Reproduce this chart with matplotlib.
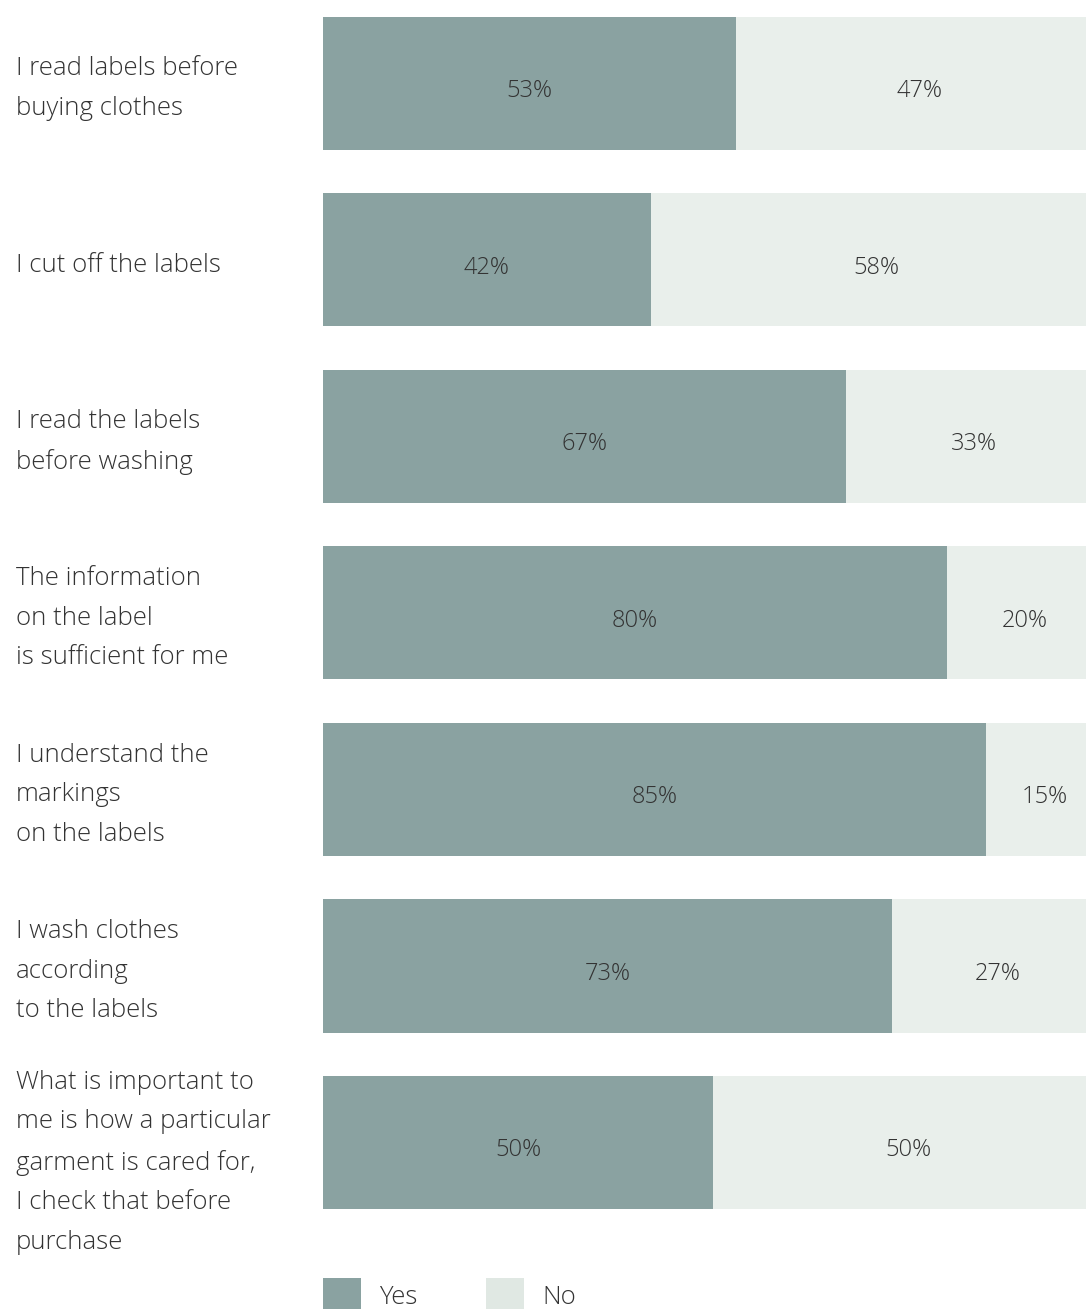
import matplotlib.pyplot as plt
import numpy as np
from matplotlib.patches import Rectangle
from matplotlib.transforms import blended_transform_factory

statements = [
    'I read labels before\nbuying clothes',
    'I cut off the labels',
    'I read the labels\nbefore washing',
    'The information\non the label\nis sufficient for me',
    'I understand the\nmarkings\non the labels',
    'I wash clothes\naccording\nto the labels',
    'What is important to\nme is how a particular\ngarment is cared for,\nI check that before\npurchase',
]
yes = [53, 42, 67, 80, 85, 73, 50]
no = [47, 58, 33, 20, 15, 27, 50]
legend_labels = ['Yes', 'No']

yes_color = '#8aa2a1'
no_color = '#e9efeb'
legend_no_color = '#e0e8e3'
text_color = '#333333'

plt.rcParams['font.family'] = ['Open Sans', 'DejaVu Sans']

W, H = 1086, 1309
fig = plt.figure(figsize=(W / 100, H / 100), dpi=100)

# bars run from x=323px, the full 100% reaching slightly past the right edge
left_px, right_px = 323, 1103
top_px, bottom_px = 17, 1209
ax = fig.add_axes([left_px / W, 1 - bottom_px / H,
                   (right_px - left_px) / W, (bottom_px - top_px) / H])

n = len(statements)
spacing = 176.5
bar_h = 133 / spacing
y = np.arange(n)

ax.barh(y, yes, height=bar_h, color=yes_color, linewidth=0)
ax.barh(y, no, left=yes, height=bar_h, color=no_color, linewidth=0)

for i in range(n):
    ax.text(yes[i] / 2, y[i] + 0.045, f'{yes[i]}%', ha='center', va='center',
            fontsize=17, color=text_color, fontweight='light')
    ax.text(yes[i] + no[i] / 2, y[i] + 0.045, f'{no[i]}%', ha='center', va='center',
            fontsize=17, color=text_color, fontweight='light')

ax.set_xlim(0, 100)
ax.set_ylim(n - 1 + bar_h / 2, -bar_h / 2)
ax.axis('off')

# statement labels on the left
label_tr = blended_transform_factory(fig.transFigure, ax.transData)
for i, s in enumerate(statements):
    lines = s.count('\n') + 1
    if lines > 3:
        yt = y[i] - bar_h / 2 - 0.035
        va = 'top'
    else:
        yt = y[i] + 0.03
        va = 'center'
    ax.text(16 / W, yt, s, transform=label_tr, ha='left', va=va,
            fontsize=18.5, color=text_color, linespacing=1.77, fontweight='light')

# legend
for x0, lab, col in zip([323, 486], legend_labels, [yes_color, legend_no_color]):
    fig.add_artist(Rectangle((x0 / W, 0), 38 / W, 31 / H, transform=fig.transFigure,
                             color=col, linewidth=0))
    fig.text((x0 + 56) / W, 1 - 1298 / H, lab, ha='left', va='center',
             fontsize=18.5, color=text_color, fontweight='light')

fig.savefig('out.png', dpi=100)
